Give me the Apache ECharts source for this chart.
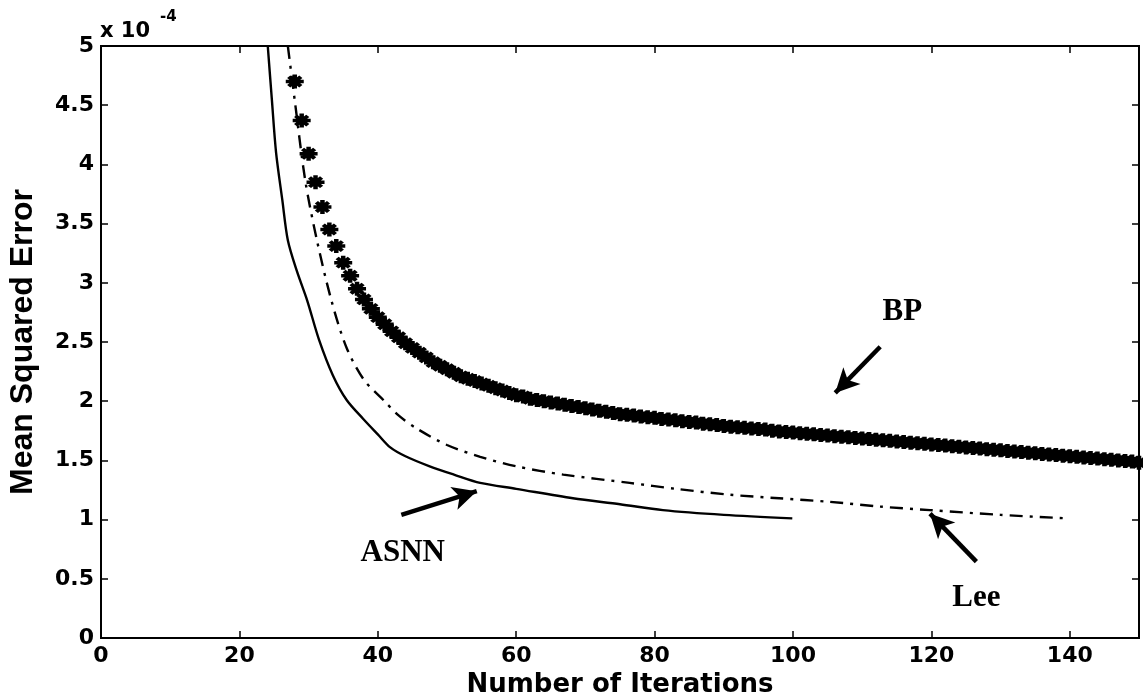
<!DOCTYPE html>
<html>
<head>
<meta charset="utf-8">
<script src="https://cdn.jsdelivr.net/npm/echarts@6/dist/echarts.min.js"></script>
<style>
html,body{margin:0;padding:0;background:#fff;}
#chart{width:1143px;height:698px;}
</style>
</head>
<body>
<div id="chart"></div>
<script>
// ---- data (values are x 1e-4) ----
var xTicks = [0, 20, 40, 60, 80, 100, 120, 140];
var yTicks = [0, 0.5, 1, 1.5, 2, 2.5, 3, 3.5, 4, 4.5, 5];

var asnnX = [24.1, 24.7, 25.3, 26.2, 27.0, 28.3, 29.8, 31.5, 33.5, 35.5, 37.9, 40, 41.8, 44, 47.5, 51, 54.8, 60, 68.2, 75, 81.2, 90, 99.9];
var asnnY = [5.0, 4.54, 4.1, 3.7, 3.36, 3.1, 2.85, 2.52, 2.22, 2.01, 1.85, 1.72, 1.61, 1.535, 1.45, 1.38, 1.31, 1.26, 1.18, 1.13, 1.08, 1.04, 1.01];

var leeX = [27.0, 28.0, 29.5, 31.2, 33.3, 35.5, 38, 40.8, 43, 45.6, 50, 54.8, 60, 66.8, 76.4, 83, 90.9, 98, 105.3, 112.6, 119.8, 130, 139.7];
var leeY = [5.0, 4.54, 3.87, 3.36, 2.85, 2.45, 2.18, 2.01, 1.88, 1.77, 1.63, 1.53, 1.45, 1.38, 1.31, 1.26, 1.21, 1.18, 1.15, 1.11, 1.08, 1.04, 1.01];

var bpStart = 28;
var bpY = [
 4.70, 4.37, 4.09, 3.85, 3.64, 3.45, 3.31, 3.17, 3.06, 2.95,
 2.86, 2.78, 2.71, 2.65, 2.59, 2.54, 2.49, 2.45, 2.41, 2.37,
 2.33, 2.30, 2.27, 2.24, 2.21, 2.19, 2.17, 2.15, 2.13, 2.11,
 2.09, 2.07, 2.05, 2.04, 2.02, 2.01, 2.00, 1.99, 1.98, 1.97,
 1.96, 1.95, 1.94, 1.93, 1.92, 1.91, 1.90, 1.89, 1.885, 1.88,
 1.87, 1.865, 1.86, 1.85, 1.845, 1.84, 1.83, 1.825, 1.82, 1.81,
 1.805, 1.80, 1.79, 1.785, 1.78, 1.775, 1.77, 1.765, 1.76, 1.75,
 1.745, 1.74, 1.735, 1.73, 1.725, 1.72, 1.715, 1.71, 1.705, 1.70,
 1.695, 1.69, 1.685, 1.68, 1.675, 1.67, 1.665, 1.66, 1.655, 1.65,
 1.645, 1.64, 1.635, 1.63, 1.625, 1.62, 1.615, 1.61, 1.605, 1.60,
 1.595, 1.59, 1.585, 1.58, 1.575, 1.57, 1.565, 1.56, 1.555, 1.55,
 1.545, 1.54, 1.535, 1.53, 1.525, 1.52, 1.515, 1.51, 1.505, 1.50,
 1.495, 1.49, 1.48
];

// annotations
var annoNames = ['BP', 'ASNN', 'Lee'];
var annoText = [[115.8, 2.75], [43.6, 0.72], [126.5, 0.34]];
var annoArrowFrom = [[112.6, 2.46], [43.4, 1.04], [126.5, 0.645]];
var annoArrowTo = [[106.1, 2.07], [54.3, 1.24], [119.8, 1.05]];

var xAxisTitle = 'Number of Iterations';
var yAxisTitle = 'Mean Squared Error';
var scaleBase = 'x 10';
var scaleExp = '-4';

// ---- build ----
function zip(a, b) { return a.map(function (v, i) { return [v, b[i]]; }); }
var bpData = bpY.map(function (v, i) { return [bpStart + i, v]; });

var starPath = 'path://M0 7.5L20 7.5L20 12.5L0 12.5Z M7.5 0L12.5 0L12.5 20L7.5 20Z M1.5 5L5 1.5L18.5 15L15 18.5Z M15 1.5L18.5 5L5 18.5L1.5 15Z';

var tickFont = { fontFamily: 'DejaVu Sans, Verdana, sans-serif', fontWeight: 'bold', fontSize: 22, color: '#000' };

var chart = echarts.init(document.getElementById('chart'), null, { renderer: 'canvas' });

var annoSeriesData = annoNames.map(function (n, i) {
  return { value: annoText[i], name: n };
});
var arrowLines = annoNames.map(function (n, i) {
  return [{ coord: annoArrowFrom[i] }, { coord: annoArrowTo[i] }];
});

var option = {
  backgroundColor: '#fff',
  animation: false,
  graphic: [
    { type: 'text', left: 100, top: 21, style: { text: scaleBase, font: 'bold 21px "DejaVu Sans", sans-serif', fill: '#000' } },
    { type: 'text', left: 160, top: 10, style: { text: scaleExp, font: 'bold 15px "DejaVu Sans", sans-serif', fill: '#000' } }
  ],
  grid: { left: 101, right: 4, top: 46, bottom: 60, show: true, borderColor: '#000', borderWidth: 2, backgroundColor: 'transparent', containLabel: false, outerBoundsMode: 'none' },
  xAxis: [{
    type: 'value', min: 0, max: 150, interval: 20, position: 'bottom',
    name: xAxisTitle, nameLocation: 'middle', nameGap: 34,
    nameTextStyle: { fontFamily: 'DejaVu Sans, Verdana, sans-serif', fontSize: 26, fontWeight: 'bold', color: '#000' },
    axisLine: { show: true, onZero: false, lineStyle: { color: '#000', width: 2 } },
    axisTick: { show: true, inside: true, length: 7, lineStyle: { color: '#000', width: 1.5 } },
    axisLabel: Object.assign({ margin: 7, showMaxLabel: false, formatter: function (v) { return xTicks.indexOf(v) >= 0 ? String(v) : ''; } }, tickFont),
    splitLine: { show: false }
  }, {
    type: 'value', min: 0, max: 150, interval: 20, position: 'top',
    axisLine: { show: true, onZero: false, lineStyle: { color: '#000', width: 2 } },
    axisTick: { show: true, inside: true, length: 7, lineStyle: { color: '#000', width: 1.5 } },
    axisLabel: { show: false },
    splitLine: { show: false }
  }],
  yAxis: [{
    type: 'value', min: 0, max: 5, interval: 0.5, position: 'left',
    name: yAxisTitle, nameLocation: 'middle', nameGap: 62,
    nameTextStyle: { fontFamily: 'Liberation Sans, Arial, sans-serif', fontSize: 32, fontWeight: 'bold', color: '#000' },
    axisLine: { show: true, onZero: false, lineStyle: { color: '#000', width: 2 } },
    axisTick: { show: true, inside: true, length: 7, lineStyle: { color: '#000', width: 1.5 } },
    axisLabel: Object.assign({ margin: 7, formatter: function (v) { return yTicks.indexOf(v) >= 0 ? String(v) : ''; } }, tickFont),
    splitLine: { show: false }
  }, {
    type: 'value', min: 0, max: 5, interval: 0.5, position: 'right',
    axisLine: { show: true, onZero: false, lineStyle: { color: '#000', width: 2 } },
    axisTick: { show: true, inside: true, length: 7, lineStyle: { color: '#000', width: 1.5 } },
    axisLabel: { show: false },
    splitLine: { show: false }
  }],
  series: [
    {
      name: 'ASNN', type: 'line', data: zip(asnnX, asnnY), smooth: 0.3,
      showSymbol: false, symbol: 'none', clip: true,
      lineStyle: { color: '#000', width: 2.4 }
    },
    {
      name: 'Lee', type: 'line', data: zip(leeX, leeY), smooth: 0.3,
      showSymbol: false, symbol: 'none', clip: true,
      lineStyle: { color: '#000', width: 2.4, type: [13, 7, 3, 7] }
    },
    {
      name: 'BP', type: 'line', data: bpData, clip: true,
      symbol: starPath, symbolSize: [18, 14], showSymbol: true, showAllSymbol: true,
      lineStyle: { width: 0, opacity: 0 },
      itemStyle: { color: '#000', borderWidth: 0, opacity: 1 }
    },
    {
      name: 'annotations', type: 'scatter', data: annoSeriesData,
      symbolSize: 1, itemStyle: { color: '#fff', opacity: 0 },
      label: {
        show: true, position: 'inside', formatter: '{b}',
        fontFamily: 'Liberation Serif, Times New Roman, serif', fontWeight: 'bold', fontSize: 31,
        color: '#000', textBorderWidth: 0, opacity: 1
      },
      markLine: {
        silent: true, animation: false,
        symbol: ['none', 'arrow'], symbolSize: [18, 24],
        label: { show: false },
        lineStyle: { color: '#000', width: 4.5, type: 'solid', opacity: 1 },
        data: arrowLines
      }
    }
  ]
};
chart.setOption(option);
</script>
</body>
</html>
